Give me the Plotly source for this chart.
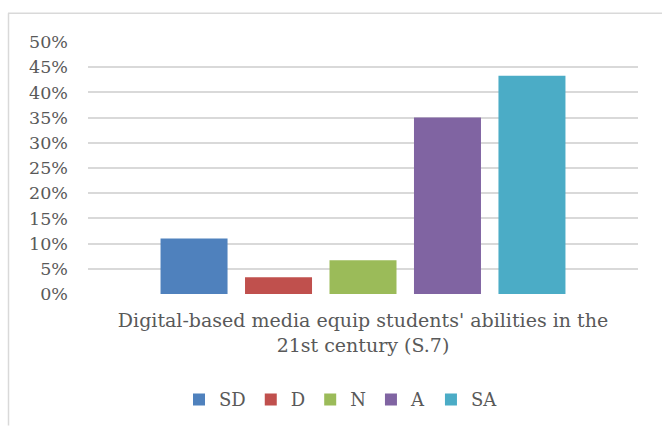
import plotly.graph_objects as go

categories = ["Digital-based media equip students' abilities in the<br>21st century (S.7)"]
series_names = ["SD", "D", "N", "A", "SA"]
series_values = [0.110, 0.033, 0.067, 0.350, 0.433]
series_colors = ["#4F81BD", "#C0504D", "#9BBB59", "#8064A2", "#4BACC6"]
y_tick_vals = [0, 0.05, 0.10, 0.15, 0.20, 0.25, 0.30, 0.35, 0.40, 0.45, 0.50]
y_tick_text = ["0%", "5%", "10%", "15%", "20%", "25%", "30%", "35%", "40%", "45%", "50%"]

FONT = "DejaVu Serif"
TXT = "#595959"
GRID = "#d9d9d9"

fig = go.Figure()
for name, val, col in zip(series_names, series_values, series_colors):
    fig.add_trace(go.Bar(x=categories, y=[val], name=name, marker=dict(color=col, line=dict(width=0))))

W, H = 662, 430
ml, mr, mt, mb = 88, 24, 42, 133
pw, ph = W - ml - mr, H - mt - mb

def px_x(p):
    return (p - ml) / pw

def px_y(p):
    return (H - mb - p) / ph

fig.update_layout(
    width=W, height=H,
    margin=dict(l=ml, r=mr, t=mt, b=mb, pad=0),
    paper_bgcolor="white", plot_bgcolor="white",
    barmode="group", bargap=0.232, bargroupgap=0.207,
    font=dict(family=FONT, size=17, color=TXT),
    showlegend=True,
    legend=dict(orientation="h", x=px_x(341), xanchor="center", y=px_y(404), yanchor="middle",
                font=dict(family=FONT, size=18, color=TXT), traceorder="normal"),
    xaxis=dict(showgrid=False, showline=False, zeroline=False, ticks="",
               tickfont=dict(family=FONT, size=19, color=TXT), ticklabelstandoff=13),
    yaxis=dict(range=[0, 0.5], tickvals=y_tick_vals, ticktext=y_tick_text,
               showgrid=True, gridcolor=GRID, gridwidth=1.5, zeroline=False, showline=False,
               ticks="", tickfont=dict(family=FONT, size=17.5, color=TXT), ticklabelstandoff=19),
    shapes=[
        dict(type="line", xref="paper", yref="paper", x0=px_x(8), x1=px_x(W), y0=px_y(13), y1=px_y(13),
             line=dict(color=GRID, width=1.5)),
        dict(type="line", xref="paper", yref="paper", x0=px_x(8.5), x1=px_x(8.5), y0=px_y(13), y1=px_y(H),
             line=dict(color=GRID, width=1.5)),
    ],
)

fig.write_html("out.html",
               config={"displayModeBar": False},
               post_script="document.body.style.margin='0';document.documentElement.style.overflow='hidden';")
